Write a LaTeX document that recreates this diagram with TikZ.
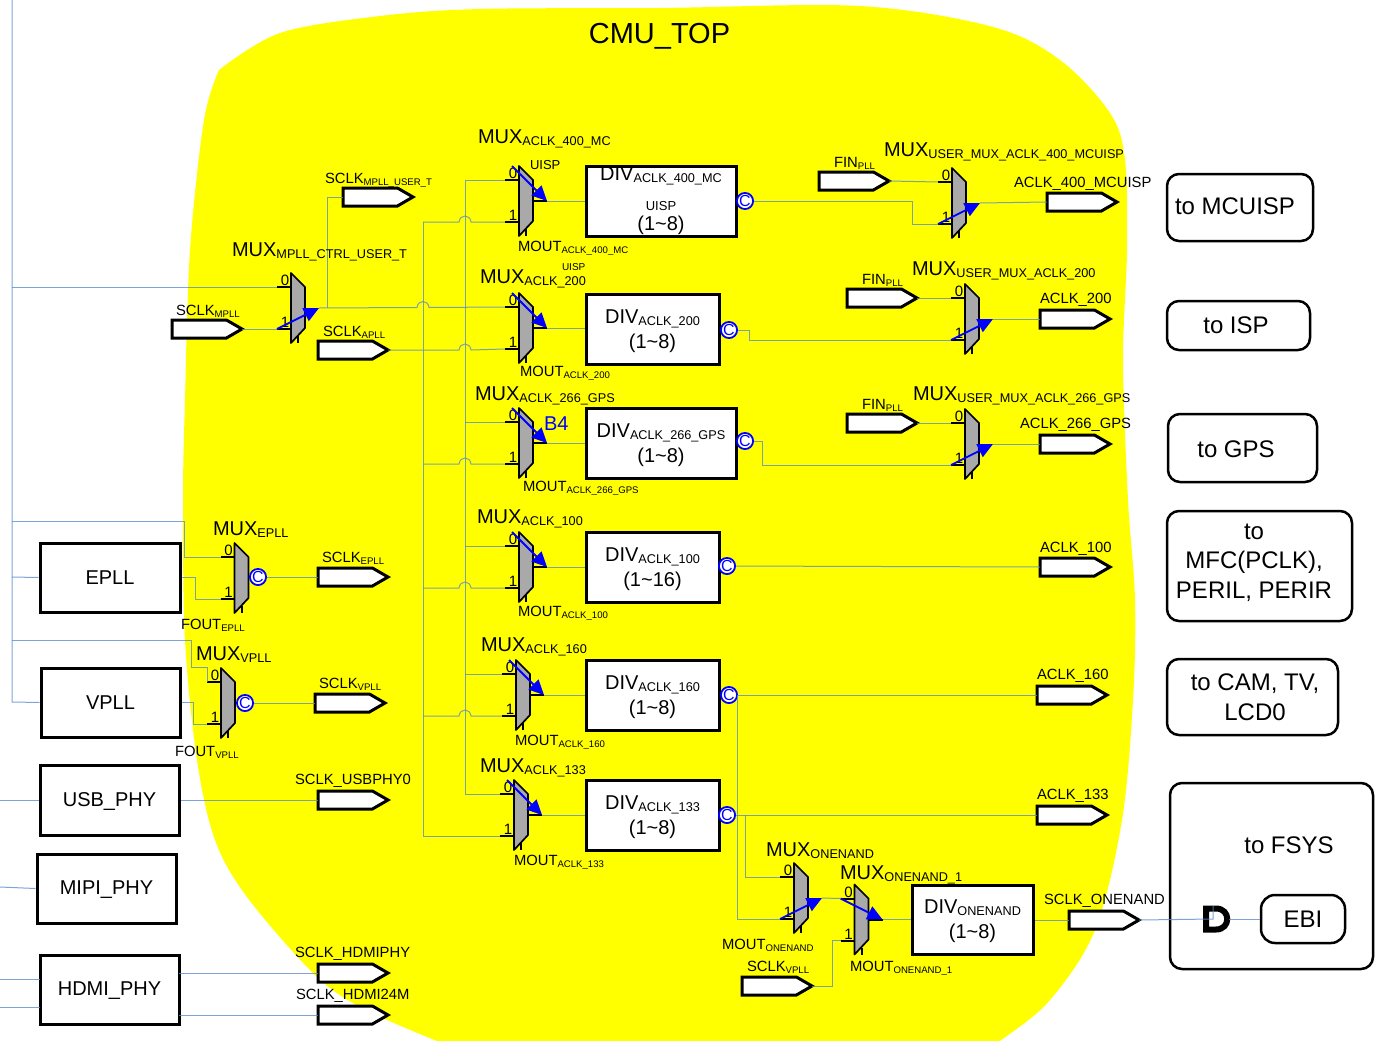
\documentclass[tikz,border=0pt]{standalone}
\usepackage{fontspec}
\setmainfont{Liberation Sans}
\usetikzlibrary{arrows.meta,shapes.symbols}
\definecolor{wirec}{HTML}{5A8ACB}
\definecolor{muxg}{HTML}{A9A9A9}
\definecolor{blobc}{RGB}{255,255,0}
\definecolor{pureblue}{RGB}{0,0,255}
\tikzset{
  x=1pt,y=-1pt,
  wire/.style={draw=wirec,line width=1pt,draw opacity=.78},
  muxbody/.style={draw=black,fill=muxg,line width=1.7pt,line join=round},
  stub/.style={draw=black,line width=2pt},
  blue arrow/.style={draw=pureblue,line width=1.8pt,-{Triangle[length=15pt,width=14pt]}},
  box/.style={draw=black,fill=white,line width=3pt,inner sep=0pt,align=center,font=\fontsize{20}{25}\selectfont},
  rbox/.style={draw=black,fill=white,line width=2.5pt,rounded corners=12pt,inner sep=0pt},
  rtext/.style={inner sep=0pt,align=center,font=\fontsize{24}{29.5}\selectfont},
  sig/.style={draw=black,fill=white,line width=3pt,shape=signal,signal to=east,signal from=nowhere,signal pointer angle=60,minimum width=70pt,minimum height=18pt,inner sep=0pt,outer sep=0pt,anchor=west},
  lbl/.style={anchor=base west,inner sep=0pt,outer sep=0pt,text=black},
  cnode/.style={circle,draw=pureblue,fill=white,line width=1.8pt,minimum size=16pt,inner sep=0pt,text=pureblue,font=\fontsize{16}{16}\selectfont},
  inlab/.style={inner sep=0pt,font=\fontsize{15}{15}\selectfont}
}
\newcommand\subbig[1]{\raisebox{-2pt}{\fontsize{12.7}{13}\selectfont #1}}
\newcommand\subsm[1]{\raisebox{-2pt}{\fontsize{9.6}{10}\selectfont #1}}
\newcommand\topfix{\rule{0pt}{18pt}}
\newcommand\oneline[1]{\raisebox{0pt}[15pt][3pt]{#1}}
\newcommand\muxlbl[4]{\node[lbl] (#1) at (#2,#3) {\fontsize{20}{20}\selectfont MUX\subbig{#4}};}
\newcommand\smlbl[5]{\node[lbl] (#1) at (#2,#3) {\fontsize{14.8}{15}\selectfont #4\subsm{#5}};}
\newcommand\bx[6]{\node[box,minimum width={(#4-#2)*1pt},minimum height={(#5-#3)*1pt}] (#1) at ({(#2+#4)/2},{(#3+#5)/2}) {#6};}
\newcommand\rbx[5]{\node[rbox,minimum width={(#4-#2)*1pt},minimum height={(#5-#3)*1pt}] (#1) at ({(#2+#4)/2},{(#3+#5)/2}) {};}
\newcommand\sgn[3]{\node[sig] (#1) at (#2,#3) {};}
\newcommand\hop[2]{-- ({#1-6},#2) .. controls ({#1-5},{#2-8}) and ({#1+5},{#2-8}) .. ({#1+6},#2)}
\newcommand\muxx[4]{%
  \coordinate (#1-0) at ({#2-14},{#3-21});
  \coordinate (#1-1) at ({#2-14},{#3+21});
  \coordinate (#1-o) at ({#2+14},#3);
  \coordinate (#1-a) at ({#2+28},#3);
  \draw[stub] (#1-0) -- ({#2},{#3-21});
  \draw[stub] (#1-1) -- ({#2},{#3+21});
  \draw[stub] ({#2+7},{#3+28}) -- ({#2+7},{#3+35});
  \path[muxbody] ({#2},{#3-35}) -- ({#2+14},{#3-21}) -- ({#2+14},{#3+20}) -- ({#2},{#3+35}) -- cycle;
  \node[inlab,anchor=south] (#1-l0) at ({#2-6},{#3-22}) {0};
  \node[inlab,anchor=south] (#1-l1) at ({#2-6},{#3+20}) {1};
  \if#4d
    \coordinate (#1-s) at ({#2-7},{#3-35});
    \draw[stub] (#1-o) -- (#1-a);
    \draw[blue arrow] (#1-s) -- (#1-a);
  \fi
  \if#4e
    \coordinate (#1-s) at ({#2-14},{#3-21});
    \draw[stub] (#1-o) -- (#1-a);
    \draw[blue arrow] (#1-s) -- (#1-a);
  \fi
  \if#4u
    \draw[blue arrow] (#1-1) -- (#1-a);
  \fi
}
\begin{document}
\begin{tikzpicture}
\useasboundingbox (0,0) rectangle (1392,1041);
\begin{scope}
\clip (0,0) rectangle (1392,1041);
\fill[blobc] plot[smooth,tension=.55] coordinates {(219,70) (280,33) (380,16) (480,9) (660,8) (860,6) (993,27) (1060,60) (1110,113) (1125,160) (1127,250) (1123,360) (1128,500) (1135,600) (1133,700) (1122,820) (1095,930) (1050,1000) (1000,1041) (950,1075)}
 -- plot[smooth,tension=.55] coordinates {(490,1060) (437,1041) (360,1007) (313,973) (247,897) (215,840) (197,760) (185,640) (183,500) (185,400) (190,250) (204,120) (219,70)} -- cycle;
\end{scope}

\node[inner sep=0pt,font=\fontsize{29}{29}\selectfont] (title) at (659.5,36) {CMU\_TOP};

\bx{epll}{40}{543}{180}{612}{EPLL}
\bx{vpll}{41}{668}{180}{737}{VPLL}
\bx{usb}{40}{765}{179}{835}{\oneline{USB\_PHY}}
\bx{mipi}{37}{854}{176}{923}{\oneline{MIPI\_PHY}}
\bx{hdmi}{40}{955}{179}{1024}{\oneline{HDMI\_PHY}}
\bx{d400}{586}{166}{736}{236}{DIV\subbig{ACLK\_400\_MC}\\[5pt]{\fontsize{13}{13}\selectfont UISP}\\[-5pt](1\textasciitilde 8)}
\bx{d200}{586}{294}{719}{364}{\topfix DIV\subbig{ACLK\_200}\\(1\textasciitilde 8)}
\bx{d266}{586}{408}{736}{478}{\topfix DIV\subbig{ACLK\_266\_GPS}\\(1\textasciitilde 8)}
\bx{d100}{586}{532}{719}{602}{\topfix DIV\subbig{ACLK\_100}\\(1\textasciitilde 16)}
\bx{d160}{586}{660}{719}{730}{\topfix DIV\subbig{ACLK\_160}\\(1\textasciitilde 8)}
\bx{d133}{586}{780}{719}{850}{\topfix DIV\subbig{ACLK\_133}\\(1\textasciitilde 8)}
\bx{dnand}{912}{885}{1033}{954}{\topfix DIV\subbig{ONENAND}\\(1\textasciitilde 8)}

\rbx{rmcu}{1167}{174}{1313}{241}
\rbx{risp}{1167}{301}{1310}{350}
\rbx{rgps}{1168}{414}{1317}{482}
\rbx{rmfc}{1167}{511}{1352}{621}
\rbx{rcam}{1167}{659}{1338}{735}
\rbx{rfsys}{1170}{783}{1373}{969}
\node[rbox,minimum width=84pt,minimum height=48pt,rounded corners=14pt,font=\fontsize{24}{24}\selectfont] (ebi) at (1303,919) {EBI};
\node[rtext] (tmcu) at (1235,206) {to MCUISP};
\node[rtext] (tisp) at (1236,325) {to ISP};
\node[rtext] (tgps) at (1236,449) {to GPS};
\node[rtext] (tmfc) at (1254,562.5) {to\\MFC(PCLK),\\PERIL, PERIR};
\node[rtext] (tcam) at (1255,697) {to CAM, TV,\\LCD0};
\node[rtext] (tfsys) at (1289,845) {to FSYS};

\sgn{sclkuser}{343}{197}
\sgn{sclkmpll}{172}{329}
\sgn{sclkapll}{318}{350}
\sgn{fina}{819}{181}
\sgn{finb}{847}{298}
\sgn{finc}{847}{423}
\sgn{a400}{1047}{202}
\sgn{a200}{1040}{319}
\sgn{a266}{1040}{444}
\sgn{a100}{1040}{567}
\sgn{a160}{1037}{695}
\sgn{a133}{1037}{815}
\sgn{snand}{1069}{920}
\sgn{svplb}{742}{986}
\sgn{sepll}{318}{577}
\sgn{svpll}{315}{703}
\sgn{susb}{318}{800}
\sgn{shdmi}{318}{973}
\sgn{shd24}{318}{1015}

\muxx{mm}{291}{308}{u}
\muxx{m400}{519}{201}{d}
\muxx{m200}{519}{328}{d}
\muxx{m266}{519}{443}{d}
\muxx{m100}{519}{567}{d}
\muxx{m160}{516}{695}{d}
\muxx{m133}{514}{815}{d}
\muxx{mep}{234.5}{578}{n}
\muxx{mvp}{221}{703}{n}
\muxx{u400}{952}{203}{u}
\muxx{u200}{965}{319}{u}
\muxx{u266}{965}{444}{u}
\muxx{mon}{794}{898}{u}
\muxx{mon1}{854.5}{919.5}{e}

\node[cnode] (c400) at (745,201) {C};
\node[cnode] (c200) at (729,330) {C};
\node[cnode] (c266) at (745,441) {C};
\node[cnode] (c100) at (727,566) {C};
\node[cnode] (c160) at (729,695) {C};
\node[cnode] (c133) at (727,815) {C};
\node[cnode] (cep) at (258,577) {C};
\node[cnode] (cvp) at (245,703) {C};

\coordinate (dgin) at (1213,919);
\coordinate (dgout) at (1229,919);
\draw[black,fill=white,line width=6pt,line join=miter] (1206,908.5) -- (1216,908.5) .. controls (1231,908.5) and (1231,929.5) .. (1216,929.5) -- (1206,929.5) -- cycle;

\coordinate (ltop) at (12,0);
\coordinate (lbot) at (12,702);
\draw[wire] (ltop) -- (lbot) -- (vpll.west);
\draw[wire] (12,287) -- (mm-0);
\draw[wire] (12,521) -- (184,521) -- (184,557) -- (mep-0);
\draw[wire] (12,577) -- (epll.west);
\draw[wire] (epll.east) -- (195,577.5) -- (195,599) -- (mep-1);
\draw[wire] (12,640) -- (191,640) -- (191,667) -- (207,667) -- (mvp-0);
\draw[wire] (vpll.east) -- (193,702.5) -- (193,724) -- (mvp-1);
\draw[wire] (0,800) -- (usb.west);
\draw[wire] (0,887) -- (mipi.west);
\draw[wire] (0,979) -- (40,979);
\draw[wire] (0,1007) -- (40,1007);
\draw[wire] (usb.east) -- (susb.west);
\draw[wire] (179,973) -- (shdmi.west);
\draw[wire] (179,1015) -- (shd24.west);
\draw[wire] (cep) -- (sepll.west);
\draw[wire] (cvp) -- (svpll.west);
\draw[wire] (sclkmpll.east) -- (mm-1);
\draw[wire] (mm-a) \hop{423}{307.5} -- (m200-0);
\draw[wire] (327,308) -- (327,197) -- (sclkuser.west);
\draw[wire] (sclkapll.east) \hop{465}{350} -- (m200-1);
\draw[wire] (m400-0) -- (465,180) -- (465,794) -- (m133-0);
\draw[wire] (465,422) -- (m266-0);
\draw[wire] (465,546) -- (m100-0);
\draw[wire] (465,674) -- (m160-0);
\draw[wire] (423,222) \hop{465}{222} -- (m400-1);
\draw[wire] (423,222) -- (423,836) -- (m133-1);
\draw[wire] (423,464) \hop{465}{464} -- (m266-1);
\draw[wire] (423,588) \hop{465}{588} -- (m100-1);
\draw[wire] (423,716) \hop{465}{716} -- (m160-1);
\draw[wire] (m400-a) -- (d400.west |- m400-a);
\draw[wire] (m200-a) -- (d200.west |- m200-a);
\draw[wire] (m266-a) -- (d266.west |- m266-a);
\draw[wire] (m100-a) -- (d100.west |- m100-a);
\draw[wire] (m160-a) -- (d160.west |- m160-a);
\draw[wire] (m133-a) -- (d133.west |- m133-a);
\draw[wire] (c400) -- (912,201) -- (912,224) -- (u400-1);
\draw[wire] (fina.east) -- (u400-0);
\draw[wire] (u400-a) -- (a400.west);
\draw[wire] (c200) -- (749,330) -- (749,340) -- (u200-1);
\draw[wire] (finb.east) -- (u200-0);
\draw[wire] (u200-a) -- (a200.west);
\draw[wire] (c266) -- (762,441) -- (762,465) -- (u266-1);
\draw[wire] (finc.east) -- (u266-0);
\draw[wire] (u266-a) -- (a266.west);
\draw[wire] (c100) -- (a100.west);
\draw[wire] (c160) -- (a160.west);
\draw[wire] (c133) -- (a133.west);
\draw[wire] (737,695) -- (737,919) -- (mon-1);
\draw[wire] (745,815) -- (745,877) -- (mon-0);
\draw[wire] (mon-a) -- (mon1-0);
\draw[wire] (mon1-a) -- (dnand.west |- mon1-a);
\draw[wire] (svplb.east) -- (832,986) -- (832,940.5) -- (mon1-1);
\draw[wire] (dnand.east |- snand) -- (snand.west);
\draw[wire] (snand.east) -- (dgin) -- (1213,906);
\draw[wire] (dgout) -- (ebi.west);

\muxlbl{l1}{478}{143}{ACLK\_400\_MC}
\node[lbl,font=\fontsize{13}{13}\selectfont] (l1b) at (530,169) {UISP};
\smlbl{l2}{325}{183}{SCLK}{MPLL\_USER\_T}
\muxlbl{l3}{232}{256}{MPLL\_CTRL\_USER\_T}
\smlbl{l4}{176}{315}{SCLK}{MPLL}
\smlbl{l5}{323}{336}{SCLK}{APLL}
\smlbl{l6}{518}{251}{MOUT}{ACLK\_400\_MC}
\muxlbl{l7}{480}{283}{ACLK\_200}
\node[lbl,font=\fontsize{10}{10}\selectfont] (l7b) at (562,270) {UISP};
\smlbl{l8}{520}{376}{MOUT}{ACLK\_200}
\muxlbl{l9}{475}{400}{ACLK\_266\_GPS}
\smlbl{l10}{523}{491}{MOUT}{ACLK\_266\_GPS}
\node[lbl,text=pureblue,font=\fontsize{20}{20}\selectfont] (b4) at (544,430) {B4};
\muxlbl{l11}{477}{523}{ACLK\_100}
\smlbl{l12}{518}{616}{MOUT}{ACLK\_100}
\muxlbl{l13}{481}{651}{ACLK\_160}
\smlbl{l14}{515}{745}{MOUT}{ACLK\_160}
\muxlbl{l15}{480}{772}{ACLK\_133}
\smlbl{l16}{514}{865}{MOUT}{ACLK\_133}
\muxlbl{l17}{213}{535}{EPLL}
\smlbl{l18}{181}{629}{FOUT}{EPLL}
\muxlbl{l19}{196}{660}{VPLL}
\smlbl{l20}{175}{756}{FOUT}{VPLL}
\smlbl{l21}{322}{562}{SCLK}{EPLL}
\smlbl{l22}{319}{688}{SCLK}{VPLL}
\smlbl{l23}{295}{784}{SCLK\_USBPHY0}{}
\smlbl{l24}{295}{957}{SCLK\_HDMIPHY}{}
\smlbl{l25}{296}{999}{SCLK\_HDMI24M}{}
\smlbl{l26}{834}{167}{FIN}{PLL}
\smlbl{l27}{862}{284}{FIN}{PLL}
\smlbl{l28}{862}{409}{FIN}{PLL}
\muxlbl{l29}{884}{156}{USER\_MUX\_ACLK\_400\_MCUISP}
\muxlbl{l30}{912}{275}{USER\_MUX\_ACLK\_200}
\muxlbl{l31}{913}{400}{USER\_MUX\_ACLK\_266\_GPS}
\smlbl{l32}{1014}{187}{ACLK\_400\_MCUISP}{}
\smlbl{l33}{1040}{303}{ACLK\_200}{}
\smlbl{l34}{1020}{428}{ACLK\_266\_GPS}{}
\smlbl{l35}{1040}{552}{ACLK\_100}{}
\smlbl{l36}{1037}{679}{ACLK\_160}{}
\smlbl{l37}{1037}{799}{ACLK\_133}{}
\smlbl{l38}{1044}{904}{SCLK\_ONENAND}{}
\muxlbl{l39}{766}{856}{ONENAND}
\muxlbl{l40}{840}{879}{ONENAND\_1}
\smlbl{l41}{722}{949}{MOUT}{ONENAND}
\smlbl{l42}{850}{971}{MOUT}{ONENAND\_1}
\smlbl{l43}{747}{971}{SCLK}{VPLL}
\end{tikzpicture}
\end{document}
